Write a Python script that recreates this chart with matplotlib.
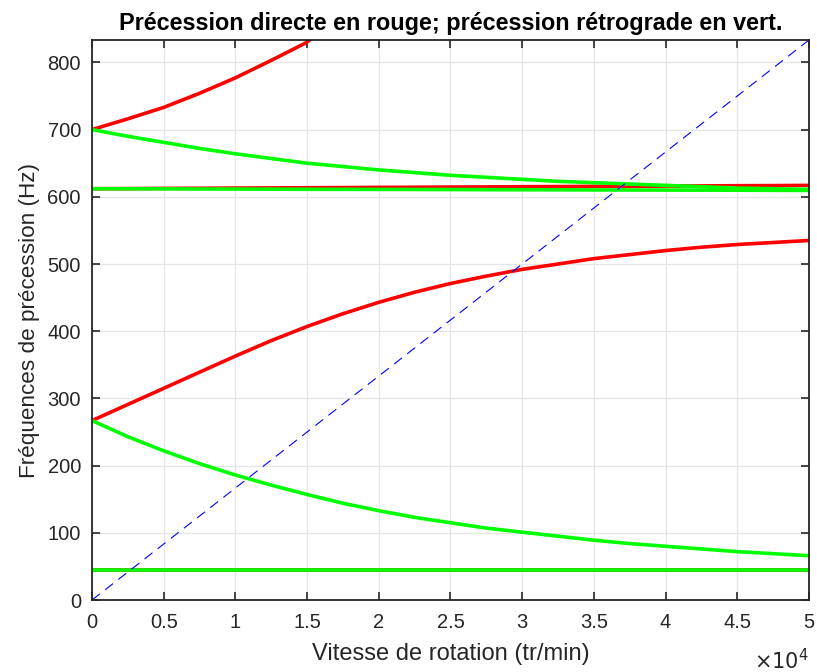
import numpy as np
import matplotlib.pyplot as plt

plt.rcParams['font.family'] = ['Liberation Sans', 'DejaVu Sans']

# vitesse de rotation (tr/min)
N = np.arange(0, 5.01, 0.25) * 1e4
N_haut = np.array([0, 0.25, 0.5, 0.75, 1, 1.25, 1.5, 1.53]) * 1e4

# fréquences lues (Hz)
rouge_haut = [700, 716, 733, 754, 777, 803, 830, 836]
vert_haut = [700, 690, 681, 672, 664, 657, 650, 645, 640, 636, 632,
             629, 626, 623, 621, 619, 617, 615, 613, 612, 611]
rouge_612 = [612, 612.2, 612.5, 612.7, 613, 613.2, 613.5, 613.7, 614, 614.2, 614.5,
             614.7, 615, 615.2, 615.5, 615.7, 616, 616.2, 616.5, 616.7, 617]
vert_612 = [612, 611.9, 611.8, 611.6, 611.5, 611.4, 611.2, 611.1, 611, 610.9, 610.8,
            610.6, 610.5, 610.4, 610.2, 610.1, 610, 609.9, 609.8, 609.6, 609.5]
rouge_267 = [267, 291, 315, 339, 363, 386, 407, 426, 443, 458, 471,
             482, 492, 500, 508, 514, 520, 525, 529, 532, 535]
vert_267 = [267, 243, 222, 203, 186, 171, 157, 144, 133, 123, 115,
            107, 101, 95, 89, 84, 80, 76, 72, 69, 66]
rouge_44 = [44] * 21
vert_44 = [44.5] * 21

fig = plt.figure(figsize=(8.17, 6.72), dpi=100)
ax = fig.add_axes([0.1126, 0.1071, 0.8776, 0.8334])

lw = 2.6
vert = (0, 1, 0)
ax.plot(N, rouge_44, color='r', lw=lw)
ax.plot(N, vert_44, color=vert, lw=lw)
ax.plot(N_haut, rouge_haut, color='r', lw=lw)
ax.plot(N, rouge_612, color='r', lw=lw)
ax.plot(N, vert_612, color=vert, lw=lw)
ax.plot(N, vert_haut, color=vert, lw=lw)
ax.plot(N, rouge_267, color='r', lw=lw)
ax.plot(N, vert_267, color=vert, lw=lw)
ax.plot([0, 5e4], [0, 5e4 / 60], color='b', lw=0.8, ls=(0, (9, 6)))

ax.set_xlim(0, 5e4)
ax.set_ylim(0, 5e4 / 60)
ax.set_xticks(np.arange(0, 5.01e4, 0.5e4))
ax.set_xticklabels(['0', '0.5', '1', '1.5', '2', '2.5', '3', '3.5', '4', '4.5', '5'])
ax.set_yticks(np.arange(0, 801, 100))
ax.tick_params(direction='in', top=True, right=True, labelsize=14.5,
               colors='#262626', length=6, width=1.2)
ax.tick_params(axis='x', pad=9)
ax.tick_params(axis='y', pad=8)
ax.grid(True, color='#e6e6e6', lw=0.9)
ax.set_axisbelow(True)
for s in ax.spines.values():
    s.set_linewidth(1.3)
    s.set_color('#262626')

ax.set_xlabel('Vitesse de rotation (tr/min)', fontsize=17, color='#262626', labelpad=8)
ax.set_ylabel('Fréquences de précession (Hz)', fontsize=16.2, color='#262626', labelpad=5)
ax.set_title('Précession directe en rouge; précession rétrograde en vert.',
             fontsize=16.8, fontweight='bold', pad=7)
ax.text(1.0, -0.085, r'$\times10^{4}$', transform=ax.transAxes, ha='right', va='top',
        fontsize=15, color='#262626', family='DejaVu Sans')

fig.savefig('out.png', dpi=100)
